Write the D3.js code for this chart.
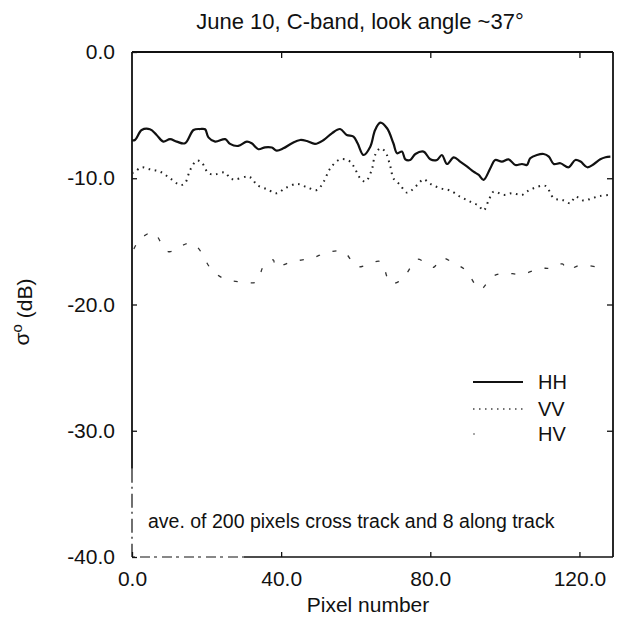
<!DOCTYPE html>
<html><head><meta charset="utf-8">
<script src="https://cdn.jsdelivr.net/npm/d3@7"></script>
<style>
html,body{margin:0;padding:0;background:#fff;}
text{font-family:"Liberation Sans",Arial,Helvetica,sans-serif;fill:#111;}
</style></head>
<body>
<svg id="c" width="619" height="620"></svg>
<script>
const title = "June 10, C-band, look angle ~37°";
const xLabel = "Pixel number";
const note = "ave. of 200 pixels cross track and 8 along track";
const xTicks = [0, 40, 80, 120];
const yTicks = [0, -10, -20, -30, -40];
const seriesNames = ["HH", "VV", "HV"];

const hhX = [0,0.8,2.6,4.8,6.6,8.4,10.2,12.0,14.2,16.5,18.3,19.6,20.5,22.3,25.0,26.3,28.5,30.8,32.1,33.9,35.7,37.5,38.8,40.6,42.9,45.1,46.9,49.1,51.4,53.6,55.8,57.6,59.4,60.5,62.1,63.9,65.2,66.6,68.4,70.1,71.1,72.4,73.3,74.6,76.0,78.2,80.0,81.8,83.1,84.5,86.3,88.0,89.9,91.6,93.0,94.3,96.1,97.4,99.2,101.0,102.8,104.6,105.9,106.8,108.6,110.4,111.8,113.1,114.9,117.1,118.9,120.3,122.1,123.9,125.6,127.0,128.3];
const hhY = [-7.0,-6.97,-6.18,-6.12,-6.57,-7.1,-6.9,-7.1,-7.23,-6.18,-6.1,-6.12,-6.76,-7.1,-6.9,-7.28,-7.44,-7.1,-7.23,-7.7,-7.55,-7.57,-7.81,-7.63,-7.23,-6.97,-7.05,-7.28,-6.97,-6.44,-6.1,-6.57,-6.7,-7.23,-8.16,-7.5,-6.18,-5.6,-6.04,-7.23,-8.02,-7.89,-8.5,-8.55,-8.08,-7.89,-8.5,-8.55,-8.16,-8.87,-8.34,-8.68,-9.08,-9.48,-9.74,-10.13,-9.21,-8.55,-8.68,-8.5,-8.95,-8.87,-8.95,-8.42,-8.16,-8.08,-8.29,-8.87,-8.81,-9.13,-8.55,-8.68,-9.13,-8.87,-8.5,-8.34,-8.29];

const vvX = [0,0.8,2.6,4.8,7.5,10.2,12.9,14.2,15.6,17.4,18.7,20.5,22.3,25.0,26.3,27.7,30.8,32.1,33.5,36.2,38.8,41.1,44.2,46.9,49.6,51.4,53.2,55.8,58.1,59.4,61.2,62.6,64.3,65.2,66.6,67.9,69.3,70.1,71.9,73.7,75.1,76.9,78.2,80.0,82.7,85.4,88.0,90.7,93.0,94.3,95.7,97.0,99.7,101.9,104.6,105.9,107.7,110.9,113.1,115.4,117.6,118.9,121.2,123.4,125.6,127.8];
const vvY = [-9.6,-9.48,-9.13,-9.29,-9.48,-10.0,-10.53,-10.4,-9.34,-8.6,-8.76,-9.6,-9.68,-9.55,-10.0,-10.08,-9.87,-10.0,-10.53,-10.87,-11.19,-10.79,-10.45,-10.71,-10.93,-10.27,-9.21,-8.5,-8.6,-9.03,-10.0,-10.27,-9.34,-8.16,-7.63,-7.89,-9.08,-10.0,-10.53,-11.14,-10.93,-10.4,-10.08,-10.45,-10.79,-10.98,-11.46,-11.85,-12.19,-12.56,-11.72,-11.06,-11.32,-11.19,-11.32,-11.06,-10.79,-10.61,-11.58,-11.72,-11.98,-11.46,-11.77,-11.58,-11.4,-11.32];

const hvX = [0.5,1.3,2.1,5.7,9.7,15.1,17.4,21.4,25.0,29.0,33.5,35.2,37.9,38.4,43.0,48.2,52.3,56.7,60.3,63.0,66.6,69.3,71.5,73.7,76.4,79.6,80.9,83.1,86.3,89.4,93.4,96.6,99.7,104.6,109.5,112.2,115.4,116.7,120.3,125.2,127.5];
const hvY = [-15.6,-15.15,-14.83,-14.3,-15.81,-15.15,-15.42,-17.26,-18.0,-18.2,-18.19,-17.0,-16.47,-17.0,-16.6,-16.33,-15.89,-15.81,-17.0,-16.87,-16.6,-18.31,-18.19,-17.52,-16.42,-16.87,-17.05,-16.33,-16.73,-17.26,-18.79,-17.79,-17.52,-17.6,-17.13,-17.13,-16.79,-17.26,-16.87,-17.05,-17.1];

const svg = d3.select("#c");
const L = 132, R = 613, T = 52, B = 557;
const x = d3.scaleLinear().domain([0, 129]).range([L, R]);
const y = d3.scaleLinear().domain([-40, 0]).range([B, T]);

// frame
const frame = svg.append("g").attr("stroke", "#111").attr("fill", "none");
frame.append("line").attr("x1", L).attr("x2", R).attr("y1", T).attr("y2", T).attr("stroke-width", 1.8);
frame.append("line").attr("x1", R).attr("x2", R).attr("y1", T).attr("y2", B).attr("stroke-width", 1.8);
frame.append("line").attr("x1", L).attr("x2", L).attr("y1", T).attr("y2", y(-33)).attr("stroke-width", 1.8);
frame.append("line").attr("x1", L).attr("x2", L).attr("y1", y(-33)).attr("y2", B).attr("stroke-width", 1.2).attr("stroke-dasharray", "14,4,2,5");
frame.append("line").attr("x1", L).attr("x2", x(30)).attr("y1", B).attr("y2", B).attr("stroke-width", 1.2).attr("stroke-dasharray", "3,5,10,4");
frame.append("line").attr("x1", x(30)).attr("x2", R).attr("y1", B).attr("y2", B).attr("stroke-width", 1.6);

// axes
const fmt = v => d3.format(".1f")(v).replace("\u2212", "-");
const gy = svg.append("g").attr("transform", `translate(${L},0)`)
  .call(d3.axisLeft(y).tickValues(yTicks).tickFormat(fmt).tickSize(-5).tickPadding(17));
const gx = svg.append("g").attr("transform", `translate(0,${B})`)
  .call(d3.axisBottom(x).tickValues(xTicks).tickFormat(fmt).tickSize(-5).tickPadding(14));
const gt = svg.append("g").attr("transform", `translate(0,${T})`)
  .call(d3.axisTop(x).tickValues(xTicks.slice(1)).tickFormat("").tickSize(-6));
const gr = svg.append("g").attr("transform", `translate(${R},0)`)
  .call(d3.axisRight(y).tickValues(yTicks.slice(1, 4)).tickFormat("").tickSize(-6));
[gy, gx, gt, gr].forEach(g => {
  g.select(".domain").remove();
  g.selectAll(".tick line").attr("stroke", "#111").attr("stroke-width", 1.3);
  g.selectAll(".tick text").style("font-size", "21px").attr("fill", "#111");
});

// lines
const mk = d3.line().x(d => x(d[0])).y(d => y(d[1])).curve(d3.curveCatmullRom.alpha(0.5));
const hh = d3.zip(hhX, hhY), vv = d3.zip(vvX, vvY), hv = d3.zip(hvX, hvY);
svg.append("path").datum(hh).attr("d", mk).attr("fill", "none").attr("stroke", "#111").attr("stroke-width", 2.2);
svg.append("path").datum(vv).attr("d", mk).attr("fill", "none").attr("stroke", "#222").attr("stroke-width", 2)
  .attr("stroke-dasharray", "1.6,4.6").attr("stroke-linecap", "butt");
svg.append("path").datum(hv).attr("d", mk).attr("fill", "none").attr("stroke", "#333").attr("stroke-width", 1.3)
  .attr("stroke-dasharray", "4,13");

// legend
const legY = [382, 409, 434];
const legStyles = [
  {w: 1.8, dash: null, c: "#111"},
  {w: 1.4, dash: "1.5,4.5", c: "#444"},
  {w: 1.2, dash: "2,60", c: "#555"}
];
seriesNames.forEach((n, i) => {
  const l = svg.append("line").attr("x1", 473).attr("x2", 523).attr("y1", legY[i]).attr("y2", legY[i])
    .attr("stroke", legStyles[i].c).attr("stroke-width", legStyles[i].w);
  if (legStyles[i].dash) l.attr("stroke-dasharray", legStyles[i].dash);
  svg.append("text").attr("x", 538).attr("y", legY[i]).attr("dy", "0.36em").style("font-size", "20px").text(n);
});

// texts
svg.append("text").attr("x", 360).attr("y", 29).attr("text-anchor", "middle").style("font-size", "22px").text(title);
svg.append("text").attr("x", 368).attr("y", 612).attr("text-anchor", "middle").style("font-size", "21px").text(xLabel);
svg.append("text").attr("x", 148).attr("y", 528).style("font-size", "19.5px").text(note);
const yl = svg.append("text").attr("transform", "translate(29,312) rotate(-90)").attr("text-anchor", "middle").style("font-size", "21px");
yl.append("tspan").text("σ");
yl.append("tspan").attr("dy", "-0.5em").style("font-size", "15px").text("o");
yl.append("tspan").attr("dy", "0.5em").text(" (dB)");
</script>
</body></html>
